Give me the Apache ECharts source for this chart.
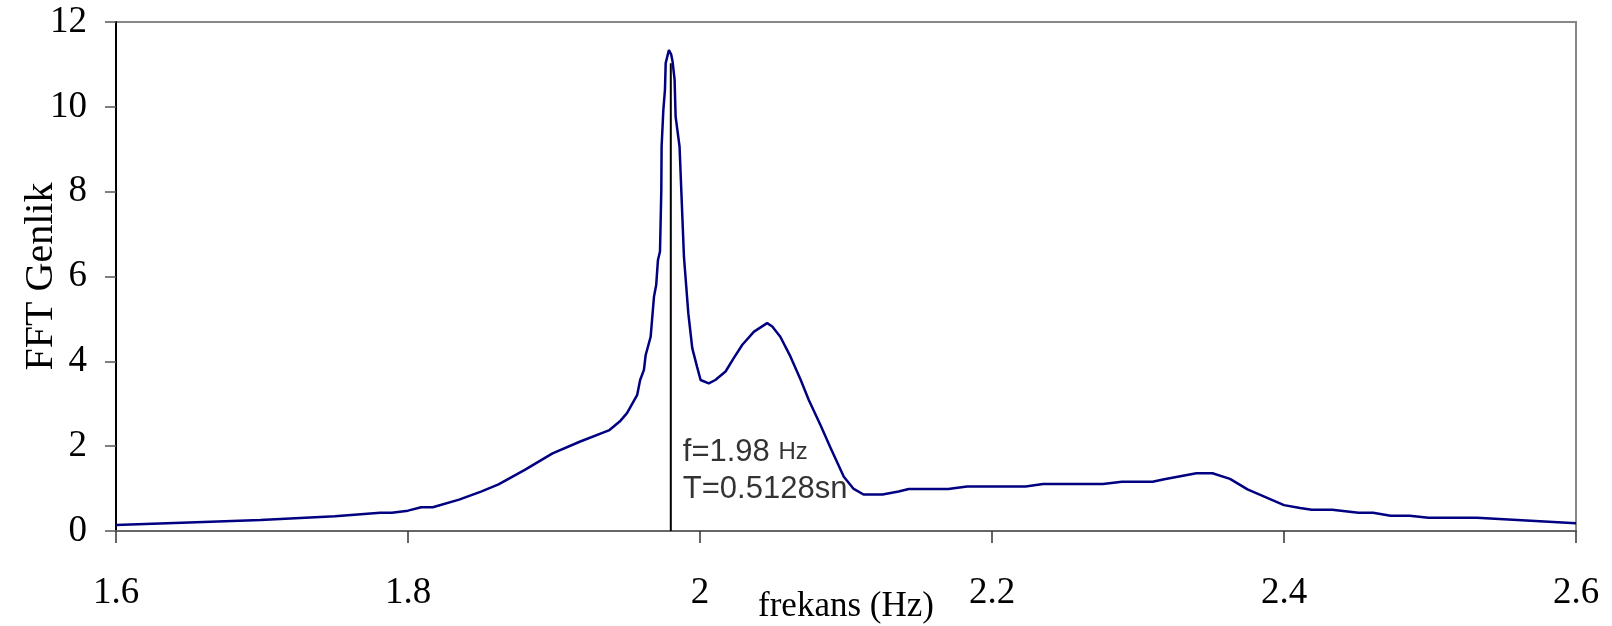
<!DOCTYPE html>
<html>
<head>
<meta charset="utf-8">
<script src="https://cdn.jsdelivr.net/npm/echarts@6/dist/echarts.min.js"></script>
<style>html,body{margin:0;padding:0;background:#fff;}#c{width:1612px;height:626px;}</style>
</head>
<body>
<div id="c"></div>
<script>
// Frequency (Hz)
const freq = [1.600,1.650,1.699,1.750,1.781,1.789,1.800,1.809,1.817,1.835,1.850,1.862,1.880,1.899,1.918,1.938,1.945,1.950,1.957,1.959,1.9616,1.9628,1.9662,1.9685,1.970,1.9712,1.9726,1.9735,1.9737,1.9749,1.976,1.9765,1.9787,1.9803,1.9812,1.9826,1.9833,1.986,1.989,1.992,1.9947,1.998,2.0004,2.006,2.0105,2.0175,2.023,2.029,2.037,2.046,2.0495,2.055,2.062,2.069,2.0745,2.0825,2.089,2.0985,2.105,2.112,2.125,2.136,2.143,2.170,2.183,2.223,2.235,2.276,2.289,2.310,2.318,2.340,2.351,2.363,2.375,2.400,2.411,2.419,2.433,2.451,2.461,2.473,2.486,2.499,2.532,2.600];
// FFT amplitude
const amp = [0.14,0.20,0.26,0.35,0.43,0.43,0.48,0.56,0.56,0.74,0.93,1.10,1.44,1.83,2.11,2.38,2.58,2.78,3.21,3.56,3.80,4.15,4.58,5.53,5.80,6.39,6.59,8.04,9.06,9.93,10.40,11.03,11.34,11.23,11.07,10.64,9.77,9.06,6.47,5.13,4.31,3.87,3.56,3.48,3.56,3.76,4.07,4.39,4.70,4.90,4.82,4.58,4.11,3.56,3.09,2.50,1.99,1.28,1.00,0.86,0.86,0.93,0.99,0.99,1.05,1.05,1.11,1.11,1.16,1.16,1.22,1.36,1.36,1.23,0.98,0.61,0.54,0.50,0.50,0.43,0.43,0.36,0.36,0.31,0.31,0.18];
// Marker of dominant frequency
const peakFreq = [1.98, 1.98];
const peakLine = [0, 11.03];
const noteAt = [1.98, 1.41];
const xTicks = {min: 1.6, max: 2.6, interval: 0.2};
const yTicks = {min: 0, max: 12, interval: 2};

const chart = echarts.init(document.getElementById('c'), null, {renderer: 'canvas'});
const serif = 'Liberation Serif';
chart.setOption({
  animation: false,
  backgroundColor: '#fff',
  grid: {left: 116, right: 36, top: 22, bottom: 95, show: true, borderColor: '#888', borderWidth: 2,
         containLabel: false, outerBoundsMode: 'none'},
  xAxis: {
    type: 'value', min: xTicks.min, max: xTicks.max, interval: xTicks.interval,
    name: 'frekans (Hz)', nameLocation: 'middle', nameGap: 58, nameMoveOverlap: false,
    nameTextStyle: {fontFamily: serif, fontSize: 35, color: '#000'},
    axisLine: {show: true, lineStyle: {color: '#666', width: 2}},
    axisTick: {show: true, length: 12, lineStyle: {color: '#333', width: 1.5}},
    axisLabel: {fontFamily: serif, fontSize: 37, color: '#000', margin: 44},
    splitLine: {show: false}
  },
  yAxis: {
    type: 'value', min: yTicks.min, max: yTicks.max, interval: yTicks.interval,
    name: 'FFT Genlik', nameLocation: 'middle', nameGap: 55, nameMoveOverlap: false,
    nameTextStyle: {fontFamily: serif, fontSize: 40, color: '#000'},
    axisLine: {show: true, lineStyle: {color: '#000', width: 2}},
    axisTick: {show: true, length: 11, lineStyle: {color: '#555', width: 1.5}},
    axisLabel: {fontFamily: serif, fontSize: 37, color: '#000', margin: 29},
    splitLine: {show: false}
  },
  series: [
    {
      type: 'line', data: freq.map((f, i) => [f, amp[i]]),
      showSymbol: false, symbol: 'none',
      lineStyle: {color: '#000080', width: 2.5}, z: 3
    },
    {
      type: 'line', data: peakFreq.map((f, i) => [f, peakLine[i]]),
      showSymbol: false, symbol: 'none',
      lineStyle: {color: '#000', width: 2}, z: 2
    },
    {
      type: 'scatter', data: [noteAt], symbolSize: 0,
      label: {
        show: true, position: 'right', distance: 12,
        formatter: '{a|f=1.98 }{b|Hz}\n{a|T=0.5128sn}',
        rich: {
          a: {fontFamily: 'Liberation Sans', fontSize: 31, color: '#000', lineHeight: 37},
          b: {fontFamily: 'Liberation Sans', fontSize: 24, color: '#000', lineHeight: 37}
        }
      }
    }
  ]
});
</script>
</body>
</html>
